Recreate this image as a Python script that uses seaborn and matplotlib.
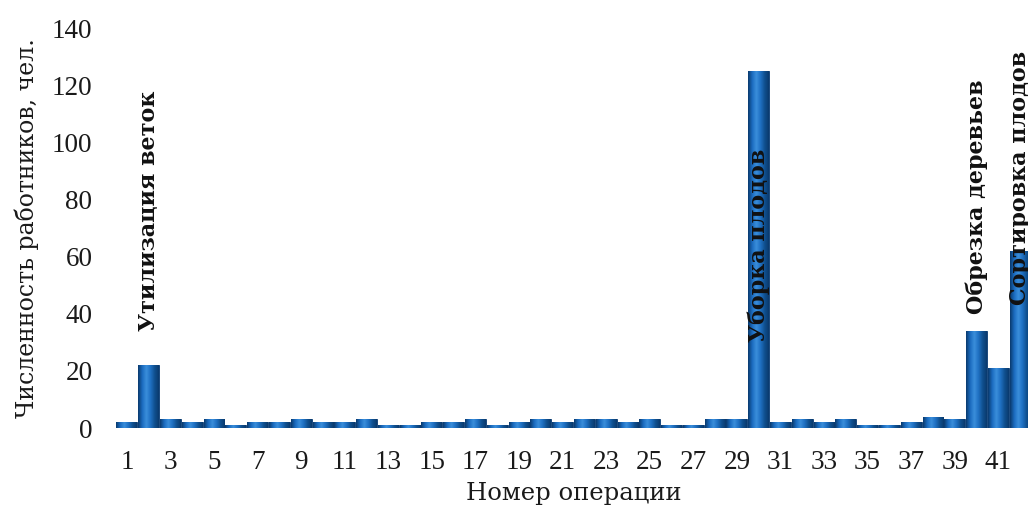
import numpy as np
import pandas as pd
import matplotlib
matplotlib.use("Agg")
import matplotlib.pyplot as plt
import seaborn as sns
from matplotlib.colors import LinearSegmentedColormap

# Number of workers for each operation
operations = list(range(1, 43))
workers = [2, 22, 3, 2, 3, 1, 2, 2, 3, 2, 2, 3, 1, 1, 2, 2, 3, 1, 2, 3, 2,
           3, 3, 2, 3, 1, 1, 3, 3, 125, 2, 3, 2, 3, 1, 1, 2, 4, 3, 34, 21, 62]

# Named operations annotated above/inside their bars
label_ops = [2, 30, 40, 42]
label_texts = ["Утилизация веток", "Уборка плодов", "Обрезка деревьев", "Сортировка плодов"]
label_y = [34, 30, 40, 43]

y_ticks = [0, 20, 40, 60, 80, 100, 120, 140]
x_tick_labels = [str(n) for n in operations if n % 2 == 1]

sns.set_theme(style="white")
plt.rcParams["font.family"] = ["DejaVu Serif"]

df = pd.DataFrame({"op": operations, "workers": workers})

fig = plt.figure(figsize=(10.28, 5.16), dpi=100)
ax = fig.add_axes([116 / 1028, 88 / 516, 915 / 1028, 400 / 516])

sns.barplot(data=df, x="op", y="workers", color="#1a6bbf", width=0.96,
            saturation=1, ax=ax, zorder=2)

# Cylinder-like horizontal shading on every bar
cyl = LinearSegmentedColormap.from_list(
    "cyl", ["#0a3a6e", "#1b6cc0", "#3a8edb", "#1f70c2", "#10508f", "#0a3a6e"])
grad = np.linspace(0, 1, 64).reshape(1, -1)
for p in list(ax.patches):
    x0, w, h = p.get_x(), p.get_width(), p.get_height()
    if h <= 0:
        continue
    p.set_edgecolor("#0a3a6e")
    p.set_linewidth(0.6)
    im = ax.imshow(grad, cmap=cyl, aspect="auto", extent=[x0, x0 + w, 0, h],
                   zorder=3, interpolation="bilinear")
    im.set_clip_path(p)

tick_font = {"family": "Liberation Serif", "size": 19.5}

ax.set_xlim(-0.5, 41.5)
ax.set_ylim(0, 140)
ax.set_yticks(y_ticks)
ax.set_yticklabels([str(v) for v in y_ticks], fontdict=tick_font, color="#1a1a1a")
ax.set_xticks(np.arange(0, 42, 2))
ax.set_xticklabels(x_tick_labels, fontdict=tick_font, color="#1a1a1a")
ax.tick_params(axis="y", length=0, pad=17)
ax.tick_params(axis="x", length=0, pad=16)
ax.set_xlabel("Номер операции", fontsize=17.5, color="#1a1a1a", labelpad=5)
ax.set_ylabel("Численность работников, чел.", fontsize=17, color="#1a1a1a", labelpad=9)
for s in ax.spines.values():
    s.set_visible(False)

for op, txt, yv in zip(label_ops, label_texts, label_y):
    ax.text(op - 1, yv, txt, rotation=90, ha="center", va="bottom",
            fontsize=16, fontweight="bold", color="#111111", zorder=5)

fig.savefig("out.png", dpi=100)
